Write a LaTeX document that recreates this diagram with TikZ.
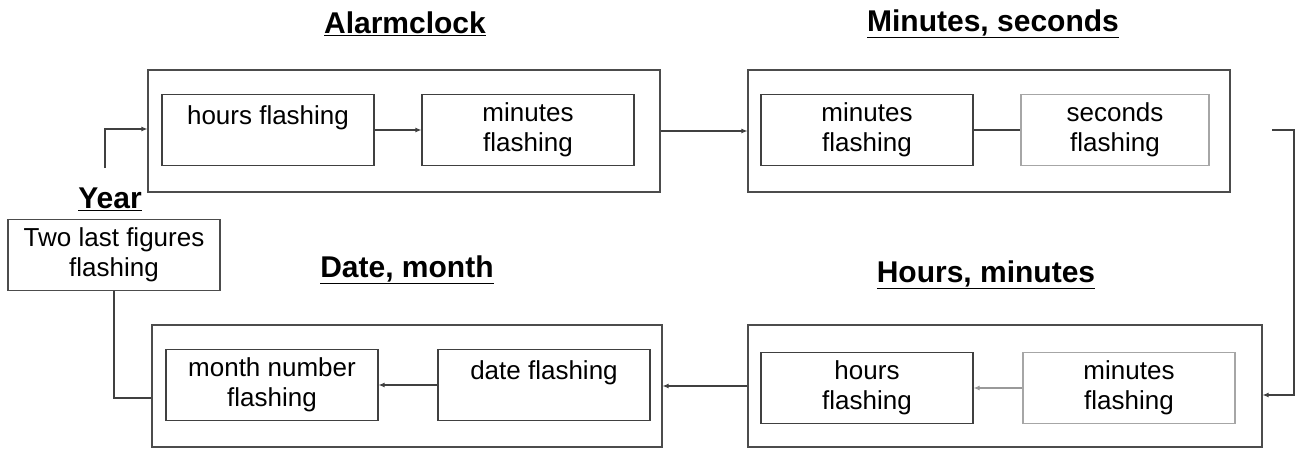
\documentclass[tikz,border=0pt]{standalone}
\usepackage{fontspec}
\setmainfont{Liberation Sans}
\usetikzlibrary{arrows.meta}
\begin{document}
\begin{tikzpicture}[x=1pt,y=-1pt,
  outerbox/.style={draw=black!70,line width=1.1pt},
  innerbox/.style={draw=black!75,line width=1.1pt,minimum width=212pt,minimum height=71pt,align=center,font=\fontsize{26}{30}\selectfont,inner sep=0pt},
  lightbox/.style={innerbox,draw=black!35},
  title/.style={font=\fontsize{30}{34}\selectfont\bfseries,inner sep=0pt},
  conn/.style={draw=black!75,line width=1.1pt},
  arr/.style={conn,-{Latex[length=6pt,width=5pt]}}]
\useasboundingbox (0,0) rectangle (1309,450);
% outer boxes
\node[outerbox,minimum width=512pt,minimum height=122pt,inner sep=0pt] (A) at (404,131) {};
\node[outerbox,minimum width=482pt,minimum height=122pt,inner sep=0pt] (M) at (989,131) {};
\node[outerbox,minimum width=514pt,minimum height=122pt,inner sep=0pt] (H) at (1005,386) {};
\node[outerbox,minimum width=510pt,minimum height=122pt,inner sep=0pt] (D) at (407,386) {};
% titles
\node[title] (tA) at (405,24) {\underline{Alarmclock}};
\node[title] (tM) at (993,24) {\underline{Minutes, seconds}};
\node[title] (tH) at (986,275) {\underline{Hours, minutes}};
\node[title] (tD) at (407,270) {\underline{Date, month}};
\node[title] (tY) at (110,199) {\underline{Year}};
% inner boxes
\node[innerbox] (a1) at (268,130) {hours flashing\\\mbox{}};
\node[innerbox] (a2) at (528,130) {minutes\\flashing};
\node[innerbox] (m1) at (867,130) {minutes\\flashing};
\node[lightbox,minimum width=188pt] (m2) at (1115,130) {seconds\\flashing};
\node[innerbox] (h1) at (867,388) {hours\\flashing};
\node[lightbox] (h2) at (1129,388) {minutes\\flashing};
\node[innerbox] (d1) at (272,385) {month number\\flashing};
\node[innerbox] (d2) at (544,385) {date flashing\\\mbox{}};
\node[innerbox,draw=black!70] (y) at (114,255) {Two last figures\\flashing};
% connectors
\coordinate (ys) at (105,168);
\coordinate (r0) at (1272,130);
\coordinate (r1) at (1294,130);
\draw[arr] (ys) |- (A.west |- 0,129);
\draw[arr] (a1.east) -- (a2.west);
\draw[arr] (A.east) -- (M.west);
\draw[conn] (m1.east) -- (m2.west);
\draw[arr] (r0) -- (r1) |- (H.east |- 0,395);
\draw[arr,draw=black!40] (h2.west) -- (h1.east);
\draw[arr] (H.west) -- (D.east);
\draw[arr] (d2.west) -- (d1.east);
\draw[conn] (D.west |- 0,398) -| (y.south);
\end{tikzpicture}
\end{document}
